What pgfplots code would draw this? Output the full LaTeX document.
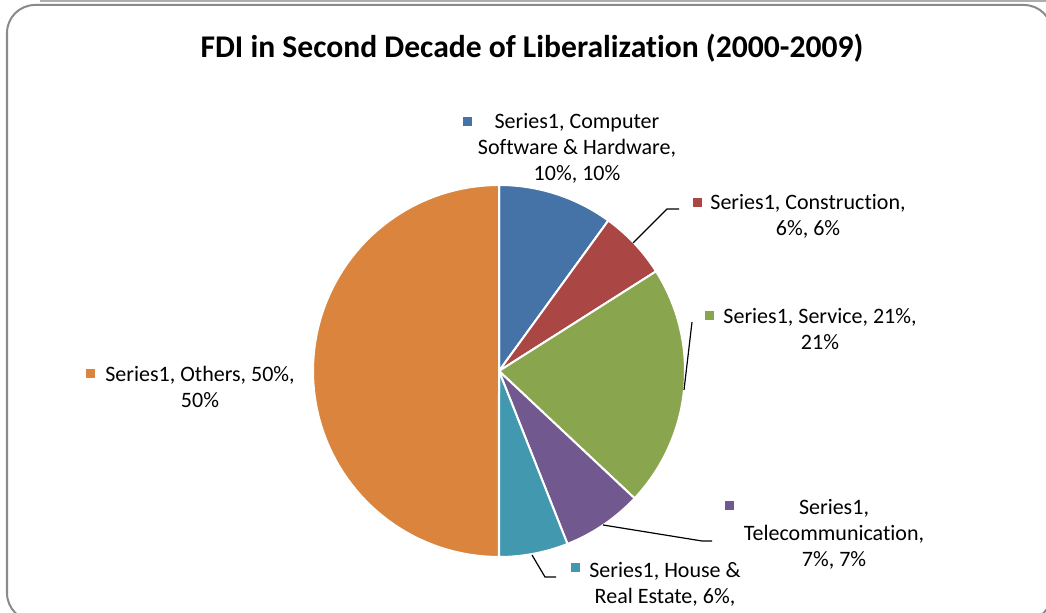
\documentclass[border=0pt]{standalone}
\usepackage{pgfplots}
\pgfplotsset{compat=1.18}
\usepackage{pgfplotstable}
\usepackage{fontspec}
\setmainfont[Ligatures=NoCommon]{Carlito}

\definecolor{cBlue}{HTML}{4573A7}
\definecolor{cRed}{HTML}{AA4643}
\definecolor{cGreen}{HTML}{89A54E}
\definecolor{cPurple}{HTML}{71588F}
\definecolor{cTeal}{HTML}{4198AF}
\definecolor{cOrange}{HTML}{DB843D}
\definecolor{frame}{HTML}{8A8A8A}

% share of FDI per sector, clockwise from 12 o'clock
\pgfplotstableread[col sep=comma]{
sector,value,colour
Computer Software and Hardware,10,cBlue
Construction,6,cRed
Service,21,cGreen
Telecommunication,7,cPurple
House and Real Estate,6,cTeal
Others,50,cOrange
}\piedata

\newcommand\lbl{\fontsize{11}{13}\selectfont}

\begin{document}
\begin{tikzpicture}
\begin{axis}[
  x=0.5pt, y=0.5pt,
  xmin=0, xmax=1046, ymin=0, ymax=613,
  hide axis, clip=false,
]
  % frame
  \draw[frame, line width=1pt, rounded corners=14pt]
    (axis cs:7,-8) rectangle (axis cs:1052,608);
  \draw[frame!70, line width=1pt] (axis cs:40,612) -- (axis cs:1046,612);

  % slices
  \pgfplotstablegetrowsof{\piedata}
  \pgfmathtruncatemacro\nrows{\pgfplotsretval-1}
  \xdef\angA{90}
  \pgfplotsforeachungrouped \i in {0,...,\nrows}{%
    \pgfplotstablegetelem{\i}{value}\of\piedata
    \pgfmathsetmacro\angB{\angA-3.6*\pgfplotsretval}
    \pgfplotstablegetelem{\i}{colour}\of\piedata
    \edef\doslice{\noexpand\addplot[fill=\pgfplotsretval, draw=white,
      line width=1pt, domain=\angB:\angA, samples=80, variable=\noexpand\t]
      ({499+186*cos(\noexpand\t)},{242+186*sin(\noexpand\t)})
      -- (axis cs:499,242) -- cycle;}
    \doslice
    \xdef\angA{\angB}
  }

  % title
  \node[font=\bfseries\fontsize{15.8}{18}\selectfont] at (axis cs:532,565)
    {FDI in Second Decade of Liberalization (2000-2009)};

  % leader lines
  \draw[black, line width=0.6pt] (axis cs:633,370) -- (axis cs:667,404) -- (axis cs:679,404);
  \draw[black, line width=0.6pt] (axis cs:684,223) -- (axis cs:692,291);
  \draw[black, line width=0.6pt] (axis cs:603,88) -- (axis cs:702,72) -- (axis cs:712,72);
  \draw[black, line width=0.6pt] (axis cs:532,58) -- (axis cs:545,36) -- (axis cs:556,36);

  % data labels
  \tikzset{sq/.style={minimum size=4.5pt, inner sep=0pt}}
  \node[sq, fill=cBlue] at (axis cs:467,491) {};
  \node[align=center, font=\lbl] at (axis cs:577,465)
    {Series1, Computer\\Software \& Hardware,\\10\%, 10\%};
  \node[sq, fill=cRed] at (axis cs:697,410) {};
  \node[align=center, font=\lbl] at (axis cs:808,397)
    {Series1, Construction,\\6\%, 6\%};
  \node[sq, fill=cGreen] at (axis cs:709,297) {};
  \node[align=center, font=\lbl] at (axis cs:820,284)
    {Series1, Service, 21\%,\\21\%};
  \node[sq, fill=cPurple] at (axis cs:729,107) {};
  \node[align=center, font=\lbl] at (axis cs:834,79)
    {Series1,\\Telecommunication,\\7\%, 7\%};
  \node[sq, fill=cTeal] at (axis cs:575,45) {};
  \node[align=center, font=\lbl, anchor=north] at (axis cs:665,58)
    {Series1, House \&\\Real Estate, 6\%,\\[4pt]6\%};
  \node[sq, fill=cOrange] at (axis cs:90,239) {};
  \node[align=center, font=\lbl] at (axis cs:200,226)
    {Series1, Others, 50\%,\\50\%};
\end{axis}
\pgfresetboundingbox
\useasboundingbox (0,0) rectangle (523pt,306.5pt);
\end{tikzpicture}
\end{document}
